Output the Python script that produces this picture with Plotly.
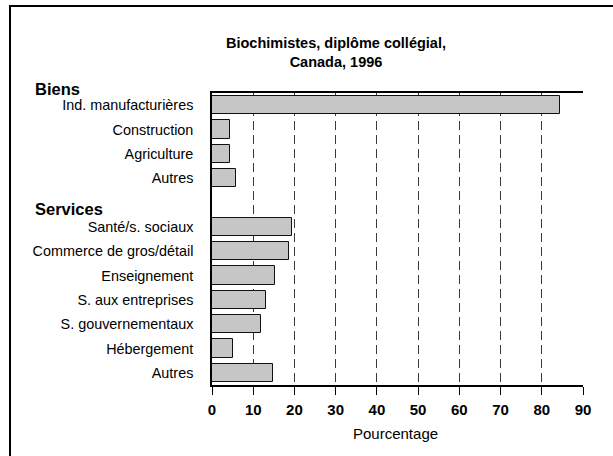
import plotly.graph_objects as go

# ---- data ----
biens_labels = ["Ind. manufacturières", "Construction", "Agriculture", "Autres"]
biens_values = [84.4, 4.3, 4.3, 5.7]
services_labels = ["Santé/s. sociaux", "Commerce de gros/détail", "Enseignement",
                   "S. aux entreprises", "S. gouvernementaux", "Hébergement", "Autres"]
services_values = [19.4, 18.6, 15.3, 13.2, 11.8, 5.0, 14.9]
x_ticks = [0, 10, 20, 30, 40, 50, 60, 70, 80, 90]
title_text = "<b>Biochimistes, diplôme collégial,<br>Canada, 1996</b>"
group_titles = ["Biens", "Services"]
x_title = "Pourcentage"

FONT = "Liberation Sans, Arial, Helvetica, sans-serif"

# positions: one empty slot between the two groups
y_biens = list(range(len(biens_labels)))
y_serv = [len(biens_labels) + 1 + i for i in range(len(services_labels))]
n_slots = len(biens_labels) + 1 + len(services_labels)

W, H = 613, 456
L, R, T, B = 212, 30, 93, 71
pw, ph = W - L - R, H - T - B

def px(xp):
    return (xp - L) / pw

def py(yp):
    return (H - B - yp) / ph

fig = go.Figure()
fig.add_trace(go.Bar(
    x=biens_values + services_values,
    y=y_biens + y_serv,
    orientation="h",
    width=0.75,
    marker=dict(color="#c6c6c6", line=dict(color="#111111", width=1)),
    hoverinfo="x",
))

fig.update_layout(
    width=W, height=H,
    margin=dict(l=L, r=R, t=T, b=B),
    paper_bgcolor="white", plot_bgcolor="white",
    showlegend=False,
    font=dict(family=FONT, color="black"),
    bargap=0,
)

fig.update_xaxes(
    range=[0, 90],
    tickvals=x_ticks,
    ticktext=[f"<b>{v}</b>" for v in x_ticks],
    tickfont=dict(size=15, family=FONT, color="black"),
    ticks="outside", ticklen=8, tickwidth=1, tickcolor="black",
    showline=True, linecolor="black", linewidth=1.5, mirror=True,
    showgrid=True, gridcolor="#3a3a3a", gridwidth=1, griddash="9px,5px",
    zeroline=False,
    ticklabelstandoff=2,
)
fig.update_yaxes(
    range=[n_slots - 0.5, -0.5],
    tickvals=y_biens + y_serv,
    ticktext=biens_labels + services_labels,
    tickfont=dict(size=14.4, family=FONT, color="black"),
    ticks="",
    ticklabelstandoff=14,
    showline=True, linecolor="black", linewidth=1.5, mirror=False,
    showgrid=False, zeroline=False,
)

annotations = [
    dict(text=title_text, x=px(336), y=py(52), xref="paper", yref="paper",
         xanchor="center", yanchor="middle", showarrow=False,
         font=dict(size=14.5, family=FONT, color="black")),
    dict(text=f"<b>{group_titles[0]}</b>", x=px(33), y=py(89), xref="paper", yref="paper",
         xanchor="left", yanchor="middle", showarrow=False,
         font=dict(size=16.5, family=FONT, color="black")),
    dict(text=f"<b>{group_titles[1]}</b>", x=px(33), y=py(209), xref="paper", yref="paper",
         xanchor="left", yanchor="middle", showarrow=False,
         font=dict(size=16.5, family=FONT, color="black")),
    dict(text=x_title, x=px(395), y=py(433), xref="paper", yref="paper",
         xanchor="center", yanchor="middle", showarrow=False,
         font=dict(size=15, family=FONT, color="black")),
]
fig.update_layout(annotations=annotations)

# outer frame (right and bottom edges fall outside the picture)
fig.add_shape(type="rect", xref="paper", yref="paper",
              x0=px(10), y0=py(470), x1=px(630), y1=py(6),
              line=dict(color="black", width=2), fillcolor="rgba(0,0,0,0)", layer="above")

fig.write_html("out.html",
               config={"displayModeBar": False},
               post_script="document.body.style.margin='0';document.body.style.overflow='hidden';")
